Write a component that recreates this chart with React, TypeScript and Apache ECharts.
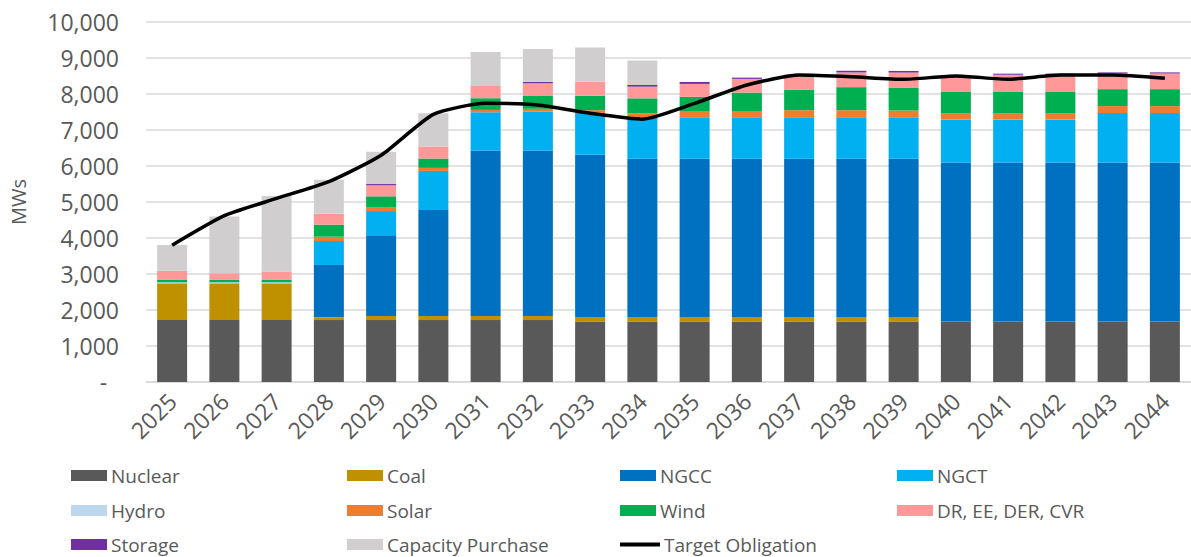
import React, { useEffect, useRef } from "react";
import * as echarts from "echarts";

const years = ["2025","2026","2027","2028","2029","2030","2031","2032","2033","2034","2035","2036","2037","2038","2039","2040","2041","2042","2043","2044"];
const nuclear = [1720,1720,1720,1720,1720,1720,1720,1720,1680,1680,1680,1680,1680,1680,1680,1680,1680,1680,1680,1680];
const coal = [1020,1020,1020,76,113,113,113,113,120,120,120,120,120,120,120,0,0,0,0,0];
const ngcc = [0,0,0,1455,2240,2945,4595,4595,4510,4400,4400,4400,4400,4400,4400,4420,4420,4420,4420,4420];
const ngct = [0,0,0,665,675,1085,1065,1085,1165,1155,1155,1155,1155,1155,1155,1195,1195,1195,1370,1370];
const hydro = [30,30,30,0,0,0,0,0,0,0,0,0,0,0,0,0,0,0,0,0];
const solar = [0,0,0,120,110,85,65,75,75,110,155,155,195,195,185,175,175,175,195,195];
const wind = [65,65,65,335,300,260,325,370,400,415,410,530,565,640,640,600,600,600,470,470];
const dr = [255,185,230,300,305,335,340,340,390,325,360,380,390,410,415,425,465,465,435,435];
const storage = [0,0,0,0,35,0,0,40,0,45,55,35,30,45,45,30,30,30,30,30];
const capacity = [715,1575,2100,945,900,925,945,915,950,680,0,0,0,0,0,0,0,0,0,0];
const target = [3800,4620,5100,5565,6300,7435,7740,7695,7465,7300,7740,8250,8525,8480,8410,8500,8410,8525,8525,8435];

const barSeries = [
  { name: "Nuclear", data: nuclear, color: "#595959" },
  { name: "Coal", data: coal, color: "#BF9000" },
  { name: "NGCC", data: ngcc, color: "#0070C0" },
  { name: "NGCT", data: ngct, color: "#00B0F0" },
  { name: "Hydro", data: hydro, color: "#BDD7EE" },
  { name: "Solar", data: solar, color: "#ED7D31" },
  { name: "Wind", data: wind, color: "#00B050" },
  { name: "DR, EE, DER, CVR", data: dr, color: "#FF9999" },
  { name: "Storage", data: storage, color: "#7030A0" },
  { name: "Capacity Purchase", data: capacity, color: "#D0CECE" },
];

const legendLayout = [
  ["Nuclear", 71, 0], ["Coal", 347, 0], ["NGCC", 620, 0], ["NGCT", 897, 0],
  ["Hydro", 71, 1], ["Solar", 347, 1], ["Wind", 620, 1], ["DR, EE, DER, CVR", 897, 1],
  ["Storage", 71, 2], ["Capacity Purchase", 347, 2], ["Target Obligation", 620, 2],
] as const;
const rowCenters = [479, 514, 548];

const FONT = "'Open Sans', sans-serif";
const TXT = "#595959";

export default function App() {
  const ref = useRef<HTMLDivElement>(null);
  useEffect(() => {
    document.body.style.margin = "0";
    const chart = echarts.init(ref.current!, undefined, { renderer: "svg" });
    const legends = legendLayout.map(([name, x, row]) => {
      const isLine = name === "Target Obligation";
      const ih = isLine ? 4 : 11;
      return {
        data: [{ name, icon: "rect" }],
        left: x,
        top: rowCenters[row] - 13,
        itemWidth: isLine ? 40 : 36,
        itemHeight: ih,
        itemGap: 0,
        padding: 0,
        selectedMode: false,
        textStyle: { fontSize: 19, color: TXT, fontFamily: FONT, padding: [0, 0, 0, -1] },
      };
    });
    chart.setOption({
      animation: false,
      textStyle: { fontFamily: FONT },
      grid: { left: 145, right: -4, top: 22, bottom: 175, containLabel: false },
      legend: legends,
      xAxis: {
        type: "category",
        data: years,
        axisTick: { show: false },
        axisLine: { lineStyle: { color: "#D9D9D9", width: 1.5 } },
        axisLabel: { rotate: 45, fontSize: 23, color: TXT, fontFamily: FONT, margin: 15, interval: 0 },
      },
      yAxis: {
        type: "value",
        min: 0,
        max: 10000,
        interval: 1000,
        name: "MWs",
        nameLocation: "middle",
        nameGap: 118,
        nameTextStyle: { fontSize: 20, color: TXT, fontFamily: FONT },
        axisLine: { show: false },
        axisTick: { show: false },
        splitLine: { lineStyle: { color: "#D9D9D9", width: 1.5 } },
        axisLabel: {
          fontSize: 23,
          color: TXT,
          fontFamily: FONT,
          margin: 27,
          formatter: (v: number) => (v === 0 ? "-  " : v.toLocaleString("en-US")),
        },
      },
      series: [
        ...barSeries.map((s) => ({
          name: s.name,
          type: "bar",
          stack: "total",
          data: s.data,
          barWidth: 30,
          itemStyle: { color: s.color },
        })),
        {
          name: "Target Obligation",
          type: "line",
          data: target,
          smooth: 0.2,
          showSymbol: false,
          symbol: "none",
          z: 10,
          itemStyle: { color: "#000" },
          lineStyle: { color: "#000", width: 3.5 },
        },
      ],
    });
    return () => chart.dispose();
  }, []);
  return <div ref={ref} style={{ width: 1191, height: 557 }} />;
}
